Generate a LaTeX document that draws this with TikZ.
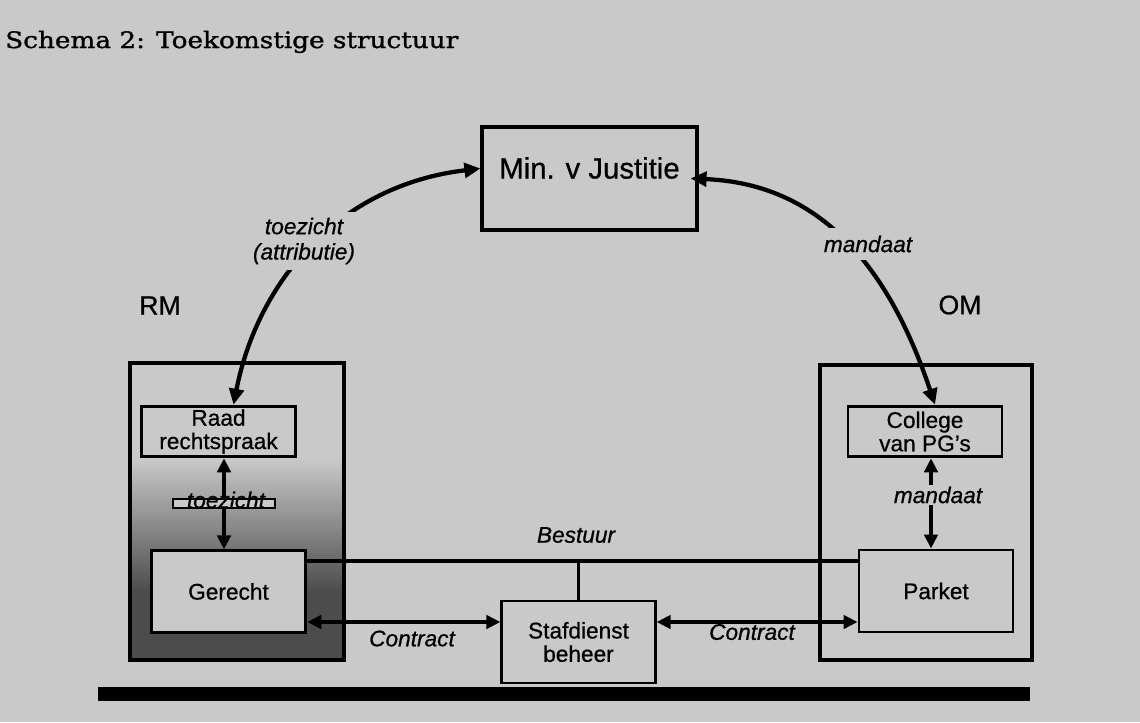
\documentclass[tikz,border=0pt]{standalone}
\usepackage{fontspec}
\setmainfont{DejaVu Serif}
\setsansfont[FakeBold=0.7]{Liberation Sans}
\newfontfamily\titlefont[FakeStretch=1.16,FakeBold=1.2]{DejaVu Serif}
\usetikzlibrary{positioning,arrows.meta,calc}
\definecolor{paper}{gray}{0.79}
\definecolor{shadow}{gray}{0.3}

\begin{document}
\begin{tikzpicture}[
    x=0.75pt, y=-0.75pt,
    box/.style={
        rectangle,
        draw=black,
        line width=2.2pt,
        fill=paper,
        inner sep=0pt,
        align=center,
        font=\sffamily\fontsize{17}{17.5}\selectfont
    },
    frame/.style={rectangle, draw=black, line width=3pt, inner sep=0pt},
    tag/.style={font=\sffamily\itshape\fontsize{17}{19}\selectfont, align=center, inner sep=1pt},
    curvelink/.style={{Triangle[length=12pt,width=11pt]}-{Triangle[length=12pt,width=11pt]}, line width=3.2pt},
    pair/.style={{Triangle[length=10.5pt,width=10pt]}-{Triangle[length=10.5pt,width=10pt]}, line width=2.8pt},
    rule/.style={line width=2.6pt}
]
    % Page
    \fill[paper] (0,0) rectangle (1140,722);
    \useasboundingbox (0,0) rectangle (1140,722);
    \node[anchor=base west, inner sep=0pt, font=\titlefont\fontsize{17}{20}\selectfont] (title) at (5,48) {Schema 2: Toekomstige structuur};

    % Outer frames
    \node[frame, minimum width=160.5pt, minimum height=222.75pt,
        path picture={
            \fill[paper] (path picture bounding box.north west) rectangle (path picture bounding box.south east);
            \shade[top color=paper, bottom color=shadow] ($(path picture bounding box.north west)+(0,95)$) rectangle ($(path picture bounding box.north east)+(0,228)$);
            \fill[shadow] ($(path picture bounding box.north west)+(0,227)$) rectangle (path picture bounding box.south east);
        }] (rm) at (237,511.5) {};
    \node[frame, minimum width=159pt, minimum height=221.25pt] (om) at (926,512.5) {};
    \node[font=\sffamily\fontsize{20}{22}\selectfont] (rmlab) at (160,305.5) {RM};
    \node[font=\sffamily\fontsize{20}{22}\selectfont] (omlab) at (960,305) {OM};

    % Boxes
    \node[box, line width=2.6pt, minimum width=161pt, minimum height=77pt, text height=16pt, text depth=16pt,
        font=\sffamily\fontsize{22}{24}\selectfont] (min) at (589.5,178.5) {Min. v Justitie};
    \node[box, minimum width=116pt, minimum height=38pt] (raad) at (218.5,431.5) {Raad\\rechtspraak};
    \node[box, minimum width=116pt, minimum height=61pt] (gerecht) at (228.5,591.5) {Gerecht};
    \node[box, minimum width=115.5pt, minimum height=38pt] (college) at (925,431.5) {College\\van PG's};
    \node[box, minimum width=115.5pt, minimum height=61.5pt] (parket) at (936,591) {Parket};
    \node[box, minimum width=115pt, minimum height=61.5pt] (staf) at (578.5,642) {Stafdienst\\beheer};

    % Links to the ministry
    \draw[curvelink] ($(raad.north)+(15,0)$) .. controls (258,280) and (340,185) .. ($(min.west)+(0,-10)$);
    \draw[curvelink] ($(min.east)+(-8,0)$) .. controls (800,183) and (880,240) .. ($(college.north)+(10,0)$);
    \node[tag, fill=paper, inner sep=4pt] (attr) at (304,241) {toezicht\\(attributie)};
    \node[tag, fill=paper, inner sep=6pt] (mand) at (868,244) {mandaat};

    % Inside RM
    \node[rectangle, draw=black, line width=1.4pt, fill=paper, minimum width=76.5pt, minimum height=6.75pt, inner sep=0pt] (toezbox) at (224,503.5) {};
    \draw[pair] (raad.south -| toezbox) -- (gerecht.north -| toezbox);
    \node[rectangle, draw=black, line width=1.4pt, fill=paper, minimum width=76.5pt, minimum height=6.75pt, inner sep=0pt] at (toezbox) {};
    \node[tag, anchor=base] (toez) at (226,508) {toezicht};

    % Inside OM
    \draw[pair] ($(college.south)+(6,0)$) -- ($(parket.north)+(-5,0)$);
    \node[tag, fill=paper] (mand2) at (938,495) {mandaat};

    % Bestuur and contracts
    \coordinate (bline) at (0,561);
    \coordinate (cline) at (0,622);
    \draw[rule] (gerecht.east |- bline) -- (parket.west |- bline);
    \draw[line width=2pt] (staf.north) -- (staf.north |- bline);
    \node[tag] (bestuur) at (576,535) {Bestuur};
    \draw[pair] (gerecht.east |- cline) -- (staf.west |- cline);
    \draw[pair] (staf.east |- cline) -- (parket.west |- cline);
    \node[tag] (contr1) at (412,638.5) {Contract};
    \node[tag] (contr2) at (752,632) {Contract};

    % Base bar
    \draw[line width=10.5pt] (98,694) -- (1030,694);
\end{tikzpicture}
\end{document}
